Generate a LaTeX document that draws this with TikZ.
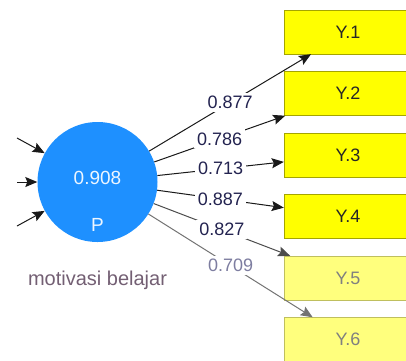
\documentclass[tikz,border=0pt]{standalone}
\usepackage{fontspec}
\setmainfont{Liberation Sans}
\usetikzlibrary{arrows.meta,positioning}

\definecolor{plsblue}{RGB}{30,144,255}
\definecolor{plsyellow}{RGB}{255,255,0}
\definecolor{paleyellow}{RGB}{255,255,125}
\definecolor{boxedge}{RGB}{165,165,0}
\definecolor{loadtext}{RGB}{35,35,80}
\definecolor{fadetext}{RGB}{125,125,160}
\definecolor{captext}{RGB}{115,95,115}

\tikzset{
  latent/.style={circle,fill=plsblue,minimum size=120pt,inner sep=0pt},
  indicator/.style={draw=boxedge,fill=plsyellow,minimum width=128pt,minimum height=44pt,
    inner sep=0pt,font=\fontsize{18}{20}\selectfont,text=black!85},
  fadedind/.style={indicator,fill=paleyellow,draw=paleyellow!75!black,text=black!50},
  outer/.style={draw=black!90,line width=1pt,-{Stealth[length=12pt,width=10pt,inset=2pt]}},
  loading/.style={fill=white,inner sep=3pt,pos=0.5,font=\fontsize{18}{20}\selectfont,text=loadtext},
}

\begin{document}
\begin{tikzpicture}[x=1pt,y=-1pt]
\useasboundingbox (0,0) rectangle (406,360);
\clip (0,0) rectangle (406,360);

% Latent variable
\node[latent] (P) at (97.5,182) {};
\node[text=white!92!plsblue,font=\fontsize{19}{21}\selectfont] (Pval) at (97.5,178) {0.908};
\node[text=white!92!plsblue,font=\fontsize{19}{21}\selectfont] (Pname) at (97.5,225) {P};
\node[text=captext,font=\fontsize{20}{22}\selectfont] (Pcap) at (97.5,280) {motivasi belajar};

% Indicators
\node[indicator] (Y1) at (348,32) {Y.1};
\node[indicator] (Y2) at (348,93.5) {Y.2};
\node[indicator] (Y3) at (348,155) {Y.3};
\node[indicator] (Y4) at (348,216.5) {Y.4};
\node[fadedind] (Y5) at (348,278) {Y.5};
\node[fadedind] (Y6) at (348,339.5) {Y.6};

% Incoming paths
\coordinate (in1) at (17,138);
\coordinate (in2) at (17,182);
\coordinate (in3) at (17,226);
\draw[outer] (in1) -- (P);
\draw[outer] (in2) -- (P);
\draw[outer] (in3) -- (P);

% Outer loadings
\draw[outer] (P) -- node[loading] {0.877} (Y1);
\draw[outer] (P) -- node[loading] {0.786} (Y2);
\draw[outer] (P) -- node[loading] {0.713} (Y3);
\draw[outer] (P) -- node[loading] {0.887} (Y4);
\draw[outer,draw=black!70] (P) -- node[loading] {0.827} (Y5);
\draw[outer,draw=black!55] (P) -- node[loading,text=fadetext] {0.709} (Y6);

\end{tikzpicture}
\end{document}
